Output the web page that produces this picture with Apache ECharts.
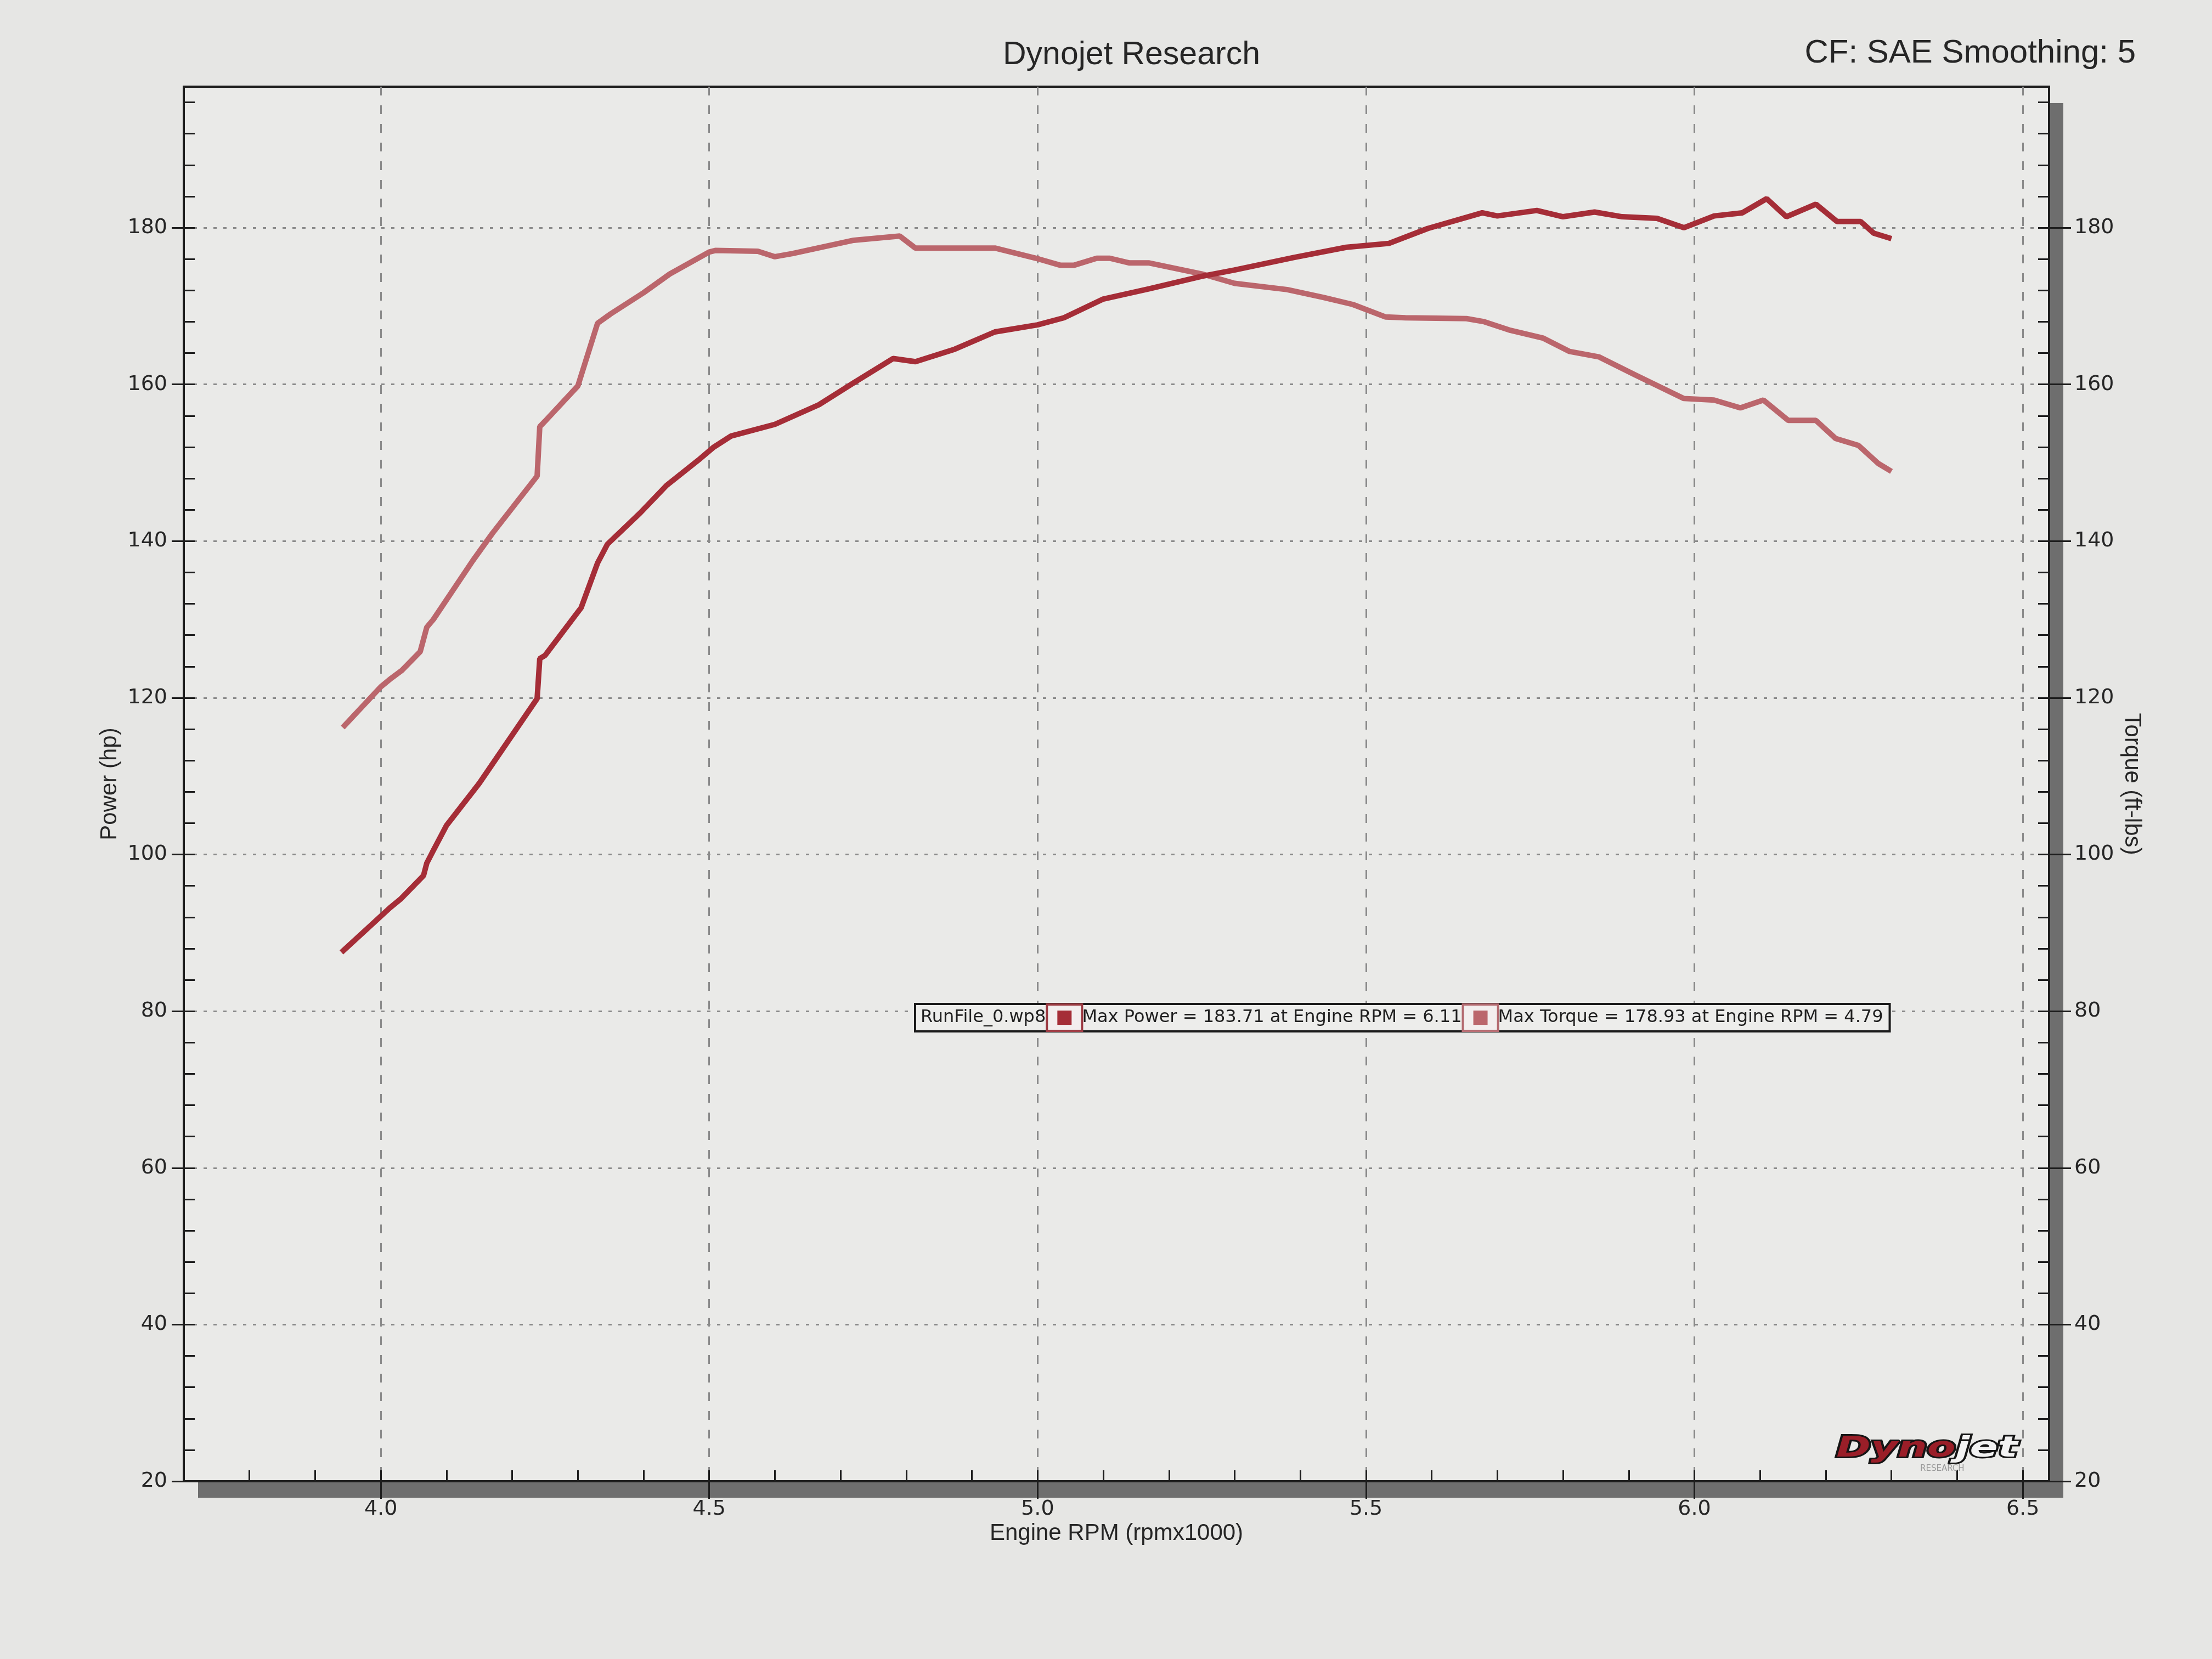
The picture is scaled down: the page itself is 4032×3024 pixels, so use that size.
<!DOCTYPE html>
<html>
<head>
<meta charset="utf-8">
<script src="https://cdn.jsdelivr.net/npm/echarts@6/dist/echarts.min.js"></script>
<style>
  html, body { margin: 0; padding: 0; background: #e6e6e4; }
  #chart { width: 4032px; height: 3024px; }
</style>
</head>
<body>
<div id="chart"></div>
<script>
// engine speed in rpm x1000
var powerRpm = [3.94, 4.014, 4.03, 4.065, 4.07, 4.078, 4.10, 4.15, 4.238, 4.242, 4.25, 4.305, 4.33, 4.345,
  4.395, 4.435, 4.483, 4.507, 4.533, 4.60, 4.667, 4.72, 4.78, 4.814, 4.874, 4.935, 5.00, 5.04, 5.10, 5.17,
  5.25, 5.30, 5.39, 5.47, 5.535, 5.594, 5.677, 5.70, 5.76, 5.80, 5.848, 5.89, 5.943, 5.984, 6.03, 6.073,
  6.11, 6.14, 6.185, 6.217, 6.253, 6.273, 6.30];
var powerHp = [87.5, 93.2, 94.3, 97.3, 98.9, 100.2, 103.7, 109.1, 119.9, 125.0, 125.4, 131.5, 137.2, 139.6,
  143.6, 147.1, 150.3, 152.0, 153.4, 154.9, 157.4, 160.2, 163.3, 162.9, 164.5, 166.7, 167.6, 168.5, 170.9, 172.2,
  173.8, 174.6, 176.2, 177.5, 178.0, 179.9, 181.9, 181.5, 182.2, 181.4, 182.0, 181.4, 181.2, 180.0, 181.5, 181.9,
  183.71, 181.4, 183.0, 180.8, 180.8, 179.3, 178.6];

var torqueRpm = [3.942, 4.0, 4.016, 4.032, 4.06, 4.07, 4.08, 4.14, 4.17, 4.238, 4.242, 4.25, 4.30, 4.33,
  4.35, 4.40, 4.44, 4.50, 4.51, 4.574, 4.60, 4.627, 4.72, 4.79, 4.814, 4.935, 5.002, 5.035, 5.055, 5.09,
  5.11, 5.14, 5.17, 5.25, 5.30, 5.38, 5.435, 5.48, 5.53, 5.56, 5.653, 5.68, 5.72, 5.77, 5.81, 5.855,
  5.91, 5.984, 6.03, 6.07, 6.105, 6.143, 6.185, 6.215, 6.25, 6.28, 6.30];
var torqueFtlb = [116.2, 121.4, 122.5, 123.5, 125.9, 129.0, 130.0, 137.5, 141.0, 148.3, 154.6, 155.3, 159.8, 167.8,
  169.0, 171.7, 174.1, 176.9, 177.1, 177.0, 176.3, 176.7, 178.4, 178.93, 177.4, 177.4, 176.0, 175.2, 175.2, 176.1,
  176.1, 175.5, 175.5, 174.1, 172.9, 172.1, 171.1, 170.2, 168.6, 168.5, 168.4, 168.0, 166.9, 165.9, 164.2, 163.5,
  161.2, 158.2, 158.0, 157.0, 158.0, 155.4, 155.4, 153.1, 152.2, 149.9, 148.9];

var rpmTicks = [4.0, 4.5, 5.0, 5.5, 6.0, 6.5];
var valueTicks = [20, 40, 60, 80, 100, 120, 140, 160, 180];
var runName = 'RunFile_0.wp8';

var powerColor = '#a52d37';
var torqueColor = '#bb666c';
var inkColor = '#262626';

var chart = echarts.init(document.getElementById('chart'));

// peaks for the legend strip
var hpMax = Math.max.apply(null, powerHp);
var hpMaxRpm = powerRpm[powerHp.indexOf(hpMax)];
var tqMax = Math.max.apply(null, torqueFtlb);
var tqMaxRpm = torqueRpm[torqueFtlb.indexOf(tqMax)];

var gridRect = { left: 335, right: 297, top: 158, bottom: 324 };
var labelFont = { color: inkColor, fontSize: 38, fontFamily: 'DejaVu Sans' };
var nameFont = { color: inkColor, fontSize: 42, fontFamily: 'Liberation Sans' };
var inkLine = { color: '#1d1d1d', width: 4 };
var tickLine = { color: '#1d1d1d', width: 3 };

var option = {
  backgroundColor: '#e6e6e4',
  animation: false,
  title: [
    {
      text: 'Dynojet Research',
      left: 1823, top: 66,
      textStyle: { color: inkColor, fontSize: 59, fontWeight: 'normal', fontFamily: 'Liberation Sans' }
    },
    {
      text: 'CF: SAE Smoothing: 5',
      right: 134, top: 62,
      textStyle: { color: inkColor, fontSize: 60, fontWeight: 'normal', fontFamily: 'Liberation Sans' }
    }
  ],
  grid: [
    // paper of the plot with its drop shadow
    Object.assign({
      show: true,
      backgroundColor: '#eaeae8',
      borderWidth: 0,
      shadowColor: '#6e6e6e',
      shadowBlur: 0,
      shadowOffsetX: 26,
      shadowOffsetY: 30
    }, gridRect),
    // frame + the small inside ticks
    Object.assign({
      show: true,
      backgroundColor: 'rgba(0,0,0,0)',
      borderColor: '#1d1d1d',
      borderWidth: 4
    }, gridRect)
  ],
  xAxis: [
    {
      type: 'value', gridIndex: 0,
      min: 3.7, max: 6.54,
      name: 'Engine RPM (rpmx1000)',
      nameLocation: 'middle', nameGap: 72,
      nameTextStyle: nameFont,
      axisLine: { show: true, onZero: false, lineStyle: inkLine },
      axisTick: { show: true, customValues: rpmTicks, length: 32, lineStyle: tickLine },
      axisLabel: {
        customValues: rpmTicks, margin: 32,
        formatter: function (v) { return v.toFixed(1); },
        color: labelFont.color, fontSize: labelFont.fontSize, fontFamily: labelFont.fontFamily
      },
      splitLine: { show: true, lineStyle: { color: '#8a8a8a', width: 3, type: [16, 18] } }
    },
    {
      type: 'value', gridIndex: 1,
      min: 3.7, max: 6.54, interval: 0.1,
      axisLine: { show: false },
      axisTick: { show: true, inside: true, length: 20, lineStyle: tickLine },
      axisLabel: { show: false },
      splitLine: { show: false }
    }
  ],
  yAxis: [
    {
      type: 'value', gridIndex: 0, position: 'left',
      min: 20, max: 198,
      name: 'Power (hp)',
      nameLocation: 'middle', nameGap: 100,
      nameTextStyle: nameFont,
      axisLine: { show: true, lineStyle: inkLine },
      axisTick: { show: true, customValues: valueTicks, length: 22, lineStyle: tickLine },
      axisLabel: Object.assign({ customValues: valueTicks, margin: 30 }, labelFont),
      splitLine: { show: true, lineStyle: { color: '#8a8a8a', width: 3, type: [6, 12] } }
    },
    {
      type: 'value', gridIndex: 0, position: 'right',
      min: 20, max: 198,
      name: 'Torque (ft-lbs)',
      nameLocation: 'middle', nameGap: 124, nameRotate: -90,
      nameTextStyle: nameFont,
      axisLine: { show: true, lineStyle: inkLine },
      axisTick: { show: true, customValues: valueTicks, length: 40, lineStyle: tickLine },
      axisLabel: Object.assign({ customValues: valueTicks, margin: 46 }, labelFont),
      splitLine: { show: false }
    },
    {
      type: 'value', gridIndex: 1, position: 'left',
      min: 20, max: 198, interval: 4,
      axisLine: { show: false },
      axisTick: { show: true, inside: true, length: 20, lineStyle: tickLine },
      axisLabel: { show: false },
      splitLine: { show: false }
    },
    {
      type: 'value', gridIndex: 1, position: 'right',
      min: 20, max: 198, interval: 4,
      axisLine: { show: false },
      axisTick: { show: true, inside: true, length: 20, lineStyle: tickLine },
      axisLabel: { show: false },
      splitLine: { show: false }
    }
  ],
  series: [
    {
      name: 'Power',
      type: 'line',
      xAxisIndex: 0, yAxisIndex: 0,
      showSymbol: false,
      lineStyle: { color: powerColor, width: 10 },
      itemStyle: { color: powerColor },
      data: powerRpm.map(function (r, i) { return [r, powerHp[i]]; }),
      z: 4
    },
    {
      name: 'Torque',
      type: 'line',
      xAxisIndex: 0, yAxisIndex: 1,
      showSymbol: false,
      lineStyle: { color: torqueColor, width: 10 },
      itemStyle: { color: torqueColor },
      data: torqueRpm.map(function (r, i) { return [r, torqueFtlb[i]]; }),
      z: 3
    }
  ],
  graphic: [
    {
      // run legend strip
      type: 'text',
      left: 1666, top: 1828,
      z: 10,
      style: {
        text: '{run|' + runName + '}{ic1|■}{t|Max Power = ' + hpMax.toFixed(2) + ' at Engine RPM = ' + hpMaxRpm.toFixed(2) + '}'
          + '{ic2|■}{t|Max Torque = ' + tqMax.toFixed(2) + ' at Engine RPM = ' + tqMaxRpm.toFixed(2) + '}',
        backgroundColor: '#ededeb',
        borderColor: '#1a1a1a',
        borderWidth: 4,
        padding: [0, 6, 0, 8],
        rich: {
          run: { fontSize: 32, fontFamily: 'DejaVu Sans', fill: '#1f1f1f', height: 46, lineHeight: 46, padding: [0, 4, 0, 0] },
          t: { fontSize: 32, fontFamily: 'DejaVu Sans', fill: '#1f1f1f', height: 46, lineHeight: 46, padding: [0, 4, 0, 2] },
          ic1: {
            fontSize: 34, fontFamily: 'DejaVu Sans', fill: powerColor, height: 44, lineHeight: 44,
            padding: [0, 14], backgroundColor: '#f3eeee', borderColor: '#9c3a42', borderWidth: 4
          },
          ic2: {
            fontSize: 34, fontFamily: 'DejaVu Sans', fill: torqueColor, height: 44, lineHeight: 44,
            padding: [0, 14], backgroundColor: '#f3eeee', borderColor: '#b46a70', borderWidth: 4
          }
        }
      }
    },
    {
      // Dynojet logo in the corner of the plot
      type: 'text',
      left: 3343, top: 2612,
      scaleX: 1.45,
      z: 10,
      style: {
        text: '{a|Dyno}{b|jet}',
        rich: {
          a: {
            fontSize: 52, fontStyle: 'italic', fontWeight: 'bold', fontFamily: 'DejaVu Sans',
            fill: '#9a1e28', stroke: '#151515', lineWidth: 6
          },
          b: {
            fontSize: 52, fontStyle: 'italic', fontWeight: 'bold', fontFamily: 'DejaVu Sans',
            fill: '#f2f2f2', stroke: '#151515', lineWidth: 6
          }
        }
      }
    },
    {
      type: 'text',
      left: 3500, top: 2670,
      z: 10,
      style: { text: 'RESEARCH', fontSize: 15, fontFamily: 'DejaVu Sans', fill: '#9a9a9a' }
    }
  ]
};

chart.setOption(option);
window.addEventListener('resize', function () { chart.resize(); });
</script>
</body>
</html>
